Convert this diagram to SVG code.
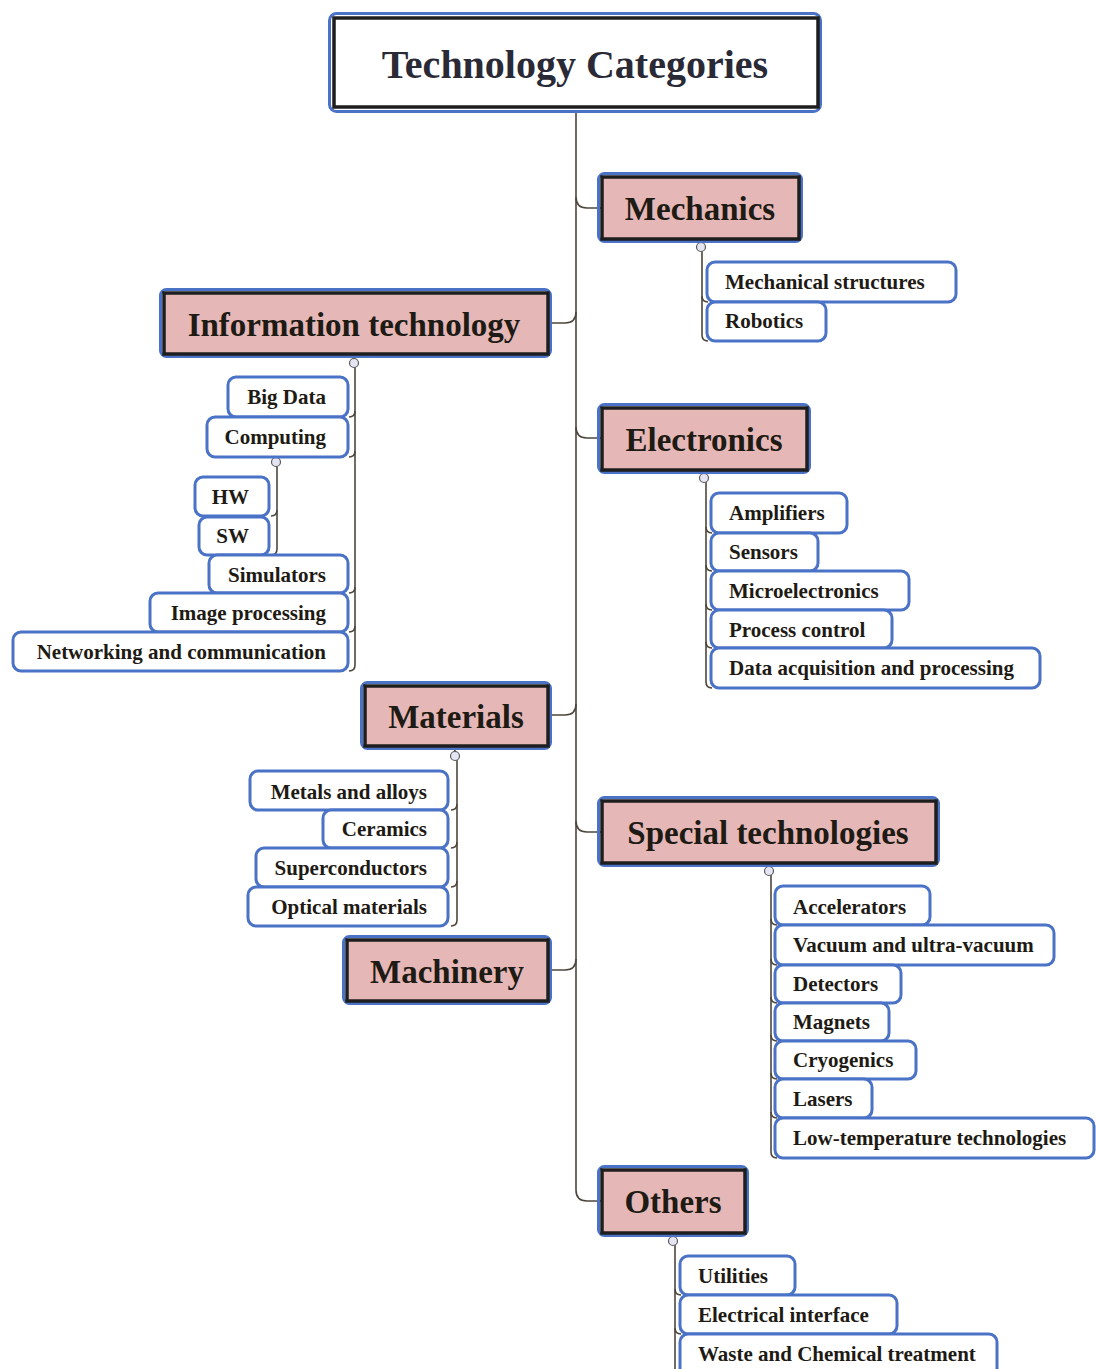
<svg xmlns="http://www.w3.org/2000/svg" width="1096" height="1369" viewBox="0 0 1096 1369">
  <style>
    .outer { fill: none; stroke: #4a72c6; stroke-width: 3; }
    .inner { fill: #e5b8b7; stroke: #1e1e1e; stroke-width: 3.5; }
    .leaf { fill: #ffffff; stroke: #4a72c6; stroke-width: 3; }
    .title-t { font-family: "Liberation Serif", "Times New Roman", serif; font-weight: bold; font-size: 40px; fill: #2a2a36; text-anchor: middle; }
    .main-t { font-family: "Liberation Serif", "Times New Roman", serif; font-weight: bold; font-size: 33px; fill: #1e1a14; text-anchor: middle; }
    .leaf-t { font-family: "Liberation Serif", "Times New Roman", serif; font-weight: bold; font-size: 21px; fill: #1e1a14; }
    .r { text-anchor: start; }
    .l { text-anchor: end; }
    .conn { fill: none; stroke: #4d463c; stroke-width: 1.6; }
    .toggle { fill: #e4e4f2; stroke: #5a5a5a; stroke-width: 1.2; }
  </style>

  <!-- connectors -->
  <g id="connectors">
    <!-- main trunk -->
    <path class="conn" d="M576 110 V1190 Q576 1201 587 1201 H601"/>
    <!-- right-hand categories -->
    <path class="conn" d="M576 197 Q576 208 587 208 H601"/>
    <path class="conn" d="M576 427 Q576 438 587 438 H601"/>
    <path class="conn" d="M576 821 Q576 832 587 832 H601"/>
    <!-- left-hand categories -->
    <path class="conn" d="M548 323 H565 Q576 323 576 312"/>
    <path class="conn" d="M548 715 H565 Q576 715 576 704"/>
    <path class="conn" d="M548 970 H565 Q576 970 576 959"/>

    <!-- Mechanics children -->
    <path class="conn" d="M701 240 V243"/>
    <path class="conn" d="M702 251 V335 Q702 341 708 341"/>
    <path class="conn" d="M702 296 Q702 302 708 302"/>

    <!-- Information technology children -->
    <path class="conn" d="M354 354 V359"/>
    <path class="conn" d="M355 367 V665 Q355 671 349 671"/>
    <path class="conn" d="M355 411 Q355 417 349 417"/>
    <path class="conn" d="M355 451 Q355 457 349 457"/>
    <path class="conn" d="M355 587 Q355 593 349 593"/>
    <path class="conn" d="M355 626 Q355 632 349 632"/>
    <!-- Computing children -->
    <path class="conn" d="M277 466 V549 Q277 555 271 555"/>
    <path class="conn" d="M277 510 Q277 516 271 516"/>

    <!-- Electronics children -->
    <path class="conn" d="M704 470 V474"/>
    <path class="conn" d="M706 482 V682 Q706 688 712 688"/>
    <path class="conn" d="M706 527 Q706 533 712 533"/>
    <path class="conn" d="M706 565 Q706 571 712 571"/>
    <path class="conn" d="M706 604 Q706 610 712 610"/>
    <path class="conn" d="M706 642 Q706 648 712 648"/>

    <!-- Materials children -->
    <path class="conn" d="M455 746 V752"/>
    <path class="conn" d="M457 760 V920 Q457 926 451 926"/>
    <path class="conn" d="M457 804 Q457 810 451 810"/>
    <path class="conn" d="M457 842 Q457 848 451 848"/>
    <path class="conn" d="M457 881 Q457 887 451 887"/>

    <!-- Special technologies children -->
    <path class="conn" d="M769 863 V867"/>
    <path class="conn" d="M771 875 V1152 Q771 1158 777 1158"/>
    <path class="conn" d="M771 919 Q771 925 777 925"/>
    <path class="conn" d="M771 959 Q771 965 777 965"/>
    <path class="conn" d="M771 997 Q771 1003 777 1003"/>
    <path class="conn" d="M771 1035 Q771 1041 777 1041"/>
    <path class="conn" d="M771 1073 Q771 1079 777 1079"/>
    <path class="conn" d="M771 1112 Q771 1118 777 1118"/>

    <!-- Others children -->
    <path class="conn" d="M673 1233 V1237"/>
    <path class="conn" d="M675 1245 V1369"/>
    <path class="conn" d="M675 1289 Q675 1295 681 1295"/>
    <path class="conn" d="M675 1328 Q675 1334 681 1334"/>

    <!-- collapse toggles -->
    <g>
      <circle class="toggle" cx="701" cy="247" r="4.5"/>
      <circle class="toggle" cx="354" cy="363" r="4.5"/>
      <circle class="toggle" cx="276" cy="462" r="4.5"/>
      <circle class="toggle" cx="704" cy="478" r="4.5"/>
      <circle class="toggle" cx="455" cy="756" r="4.5"/>
      <circle class="toggle" cx="769" cy="871" r="4.5"/>
      <circle class="toggle" cx="673" cy="1241" r="4.5"/>
    </g>
  </g>

  <!-- root -->
  <g id="root">
    <rect class="outer" x="329.5" y="13.5" width="491" height="98" rx="7"/>
    <rect x="334" y="18" width="484" height="89" fill="#ffffff" stroke="#1e1e1e" stroke-width="3.5"/>
    <text class="title-t" x="575" y="78">Technology Categories</text>
  </g>

  <!-- Mechanics -->
  <g id="mechanics">
    <rect class="outer" x="598.5" y="173.5" width="203" height="68" rx="6"/>
    <rect class="inner" x="602" y="177" width="197" height="62"/>
    <text class="main-t" x="700" y="220">Mechanics</text>
  </g>
  <g id="mechanical-structures">
    <rect class="leaf" x="707" y="262" width="249" height="40" rx="8"/>
    <text class="leaf-t r" x="725" y="289">Mechanical structures</text>
  </g>
  <g id="robotics">
    <rect class="leaf" x="707" y="302" width="119" height="39" rx="8"/>
    <text class="leaf-t r" x="725" y="328">Robotics</text>
  </g>

  <!-- Information technology -->
  <g id="information-technology">
    <rect class="outer" x="160.5" y="289.5" width="390" height="67" rx="6"/>
    <rect class="inner" x="164" y="293" width="384" height="61"/>
    <text class="main-t" x="354" y="336">Information technology</text>
  </g>
  <g id="big-data">
    <rect class="leaf" x="228" y="377" width="120" height="40" rx="8"/>
    <text class="leaf-t l" x="326" y="404">Big Data</text>
  </g>
  <g id="computing">
    <rect class="leaf" x="207" y="417" width="141" height="40" rx="8"/>
    <text class="leaf-t l" x="326" y="444">Computing</text>
  </g>
  <g id="hw">
    <rect class="leaf" x="195" y="477" width="74" height="39" rx="8"/>
    <text class="leaf-t l" x="249" y="504">HW</text>
  </g>
  <g id="sw">
    <rect class="leaf" x="199" y="517" width="70" height="38" rx="8"/>
    <text class="leaf-t l" x="249" y="543">SW</text>
  </g>
  <g id="simulators">
    <rect class="leaf" x="209" y="555" width="139" height="38" rx="8"/>
    <text class="leaf-t l" x="326" y="582">Simulators</text>
  </g>
  <g id="image-processing">
    <rect class="leaf" x="150" y="593" width="198" height="39" rx="8"/>
    <text class="leaf-t l" x="326" y="620">Image processing</text>
  </g>
  <g id="networking">
    <rect class="leaf" x="13" y="632" width="335" height="39" rx="8"/>
    <text class="leaf-t l" x="326" y="659">Networking and communication</text>
  </g>

  <!-- Electronics -->
  <g id="electronics">
    <rect class="outer" x="598.5" y="404.5" width="211" height="68" rx="6"/>
    <rect class="inner" x="602" y="408" width="205" height="62"/>
    <text class="main-t" x="704" y="451">Electronics</text>
  </g>
  <g id="amplifiers">
    <rect class="leaf" x="711" y="493" width="136" height="40" rx="8"/>
    <text class="leaf-t r" x="729" y="520">Amplifiers</text>
  </g>
  <g id="sensors">
    <rect class="leaf" x="711" y="533" width="107" height="38" rx="8"/>
    <text class="leaf-t r" x="729" y="559">Sensors</text>
  </g>
  <g id="microelectronics">
    <rect class="leaf" x="711" y="571" width="198" height="39" rx="8"/>
    <text class="leaf-t r" x="729" y="598">Microelectronics</text>
  </g>
  <g id="process-control">
    <rect class="leaf" x="711" y="610" width="181" height="38" rx="8"/>
    <text class="leaf-t r" x="729" y="637">Process control</text>
  </g>
  <g id="data-acquisition">
    <rect class="leaf" x="711" y="648" width="329" height="40" rx="8"/>
    <text class="leaf-t r" x="729" y="675">Data acquisition and processing</text>
  </g>

  <!-- Materials -->
  <g id="materials">
    <rect class="outer" x="361.5" y="682.5" width="189" height="66" rx="6"/>
    <rect class="inner" x="365" y="686" width="183" height="60"/>
    <text class="main-t" x="456" y="728">Materials</text>
  </g>
  <g id="metals">
    <rect class="leaf" x="250" y="771" width="198" height="39" rx="8"/>
    <text class="leaf-t l" x="427" y="799">Metals and alloys</text>
  </g>
  <g id="ceramics">
    <rect class="leaf" x="323" y="810" width="125" height="38" rx="8"/>
    <text class="leaf-t l" x="427" y="836">Ceramics</text>
  </g>
  <g id="superconductors">
    <rect class="leaf" x="256" y="848" width="192" height="39" rx="8"/>
    <text class="leaf-t l" x="427" y="875">Superconductors</text>
  </g>
  <g id="optical-materials">
    <rect class="leaf" x="248" y="887" width="200" height="39" rx="8"/>
    <text class="leaf-t l" x="427" y="914">Optical materials</text>
  </g>

  <!-- Special technologies -->
  <g id="special-technologies">
    <rect class="outer" x="598.5" y="797.5" width="340" height="68" rx="6"/>
    <rect class="inner" x="602" y="801" width="334" height="62"/>
    <text class="main-t" x="768" y="844">Special technologies</text>
  </g>
  <g id="accelerators">
    <rect class="leaf" x="775" y="886" width="155" height="39" rx="8"/>
    <text class="leaf-t r" x="793" y="914">Accelerators</text>
  </g>
  <g id="vacuum">
    <rect class="leaf" x="775" y="925" width="279" height="40" rx="8"/>
    <text class="leaf-t r" x="793" y="952">Vacuum and ultra-vacuum</text>
  </g>
  <g id="detectors">
    <rect class="leaf" x="775" y="965" width="126" height="38" rx="8"/>
    <text class="leaf-t r" x="793" y="991">Detectors</text>
  </g>
  <g id="magnets">
    <rect class="leaf" x="775" y="1003" width="114" height="38" rx="8"/>
    <text class="leaf-t r" x="793" y="1029">Magnets</text>
  </g>
  <g id="cryogenics">
    <rect class="leaf" x="775" y="1041" width="141" height="38" rx="8"/>
    <text class="leaf-t r" x="793" y="1067">Cryogenics</text>
  </g>
  <g id="lasers">
    <rect class="leaf" x="775" y="1079" width="97" height="39" rx="8"/>
    <text class="leaf-t r" x="793" y="1106">Lasers</text>
  </g>
  <g id="low-temperature">
    <rect class="leaf" x="775" y="1118" width="319" height="40" rx="8"/>
    <text class="leaf-t r" x="793" y="1145">Low-temperature technologies</text>
  </g>

  <!-- Machinery -->
  <g id="machinery">
    <rect class="outer" x="343.5" y="936.5" width="207" height="67" rx="6"/>
    <rect class="inner" x="347" y="940" width="201" height="61"/>
    <text class="main-t" x="447" y="983">Machinery</text>
  </g>

  <!-- Others -->
  <g id="others">
    <rect class="outer" x="598.5" y="1166.5" width="149" height="69" rx="6"/>
    <rect class="inner" x="602" y="1170" width="143" height="63"/>
    <text class="main-t" x="673" y="1213">Others</text>
  </g>
  <g id="utilities">
    <rect class="leaf" x="680" y="1256" width="115" height="39" rx="8"/>
    <text class="leaf-t r" x="698" y="1283">Utilities</text>
  </g>
  <g id="electrical-interface">
    <rect class="leaf" x="680" y="1295" width="217" height="39" rx="8"/>
    <text class="leaf-t r" x="698" y="1322">Electrical interface</text>
  </g>
  <g id="waste-chemical">
    <rect class="leaf" x="680" y="1334" width="317" height="44" rx="8"/>
    <text class="leaf-t r" x="698" y="1361">Waste and Chemical treatment</text>
  </g>
</svg>
